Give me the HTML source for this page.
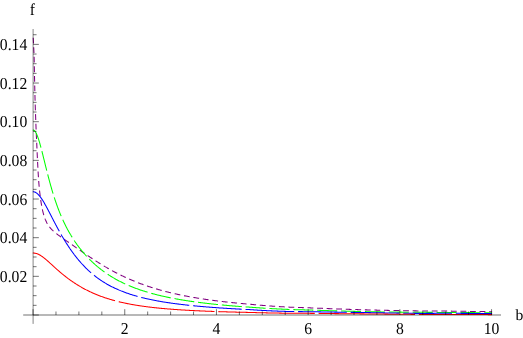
<!DOCTYPE html><html><head><meta charset="utf-8"><style>html,body{margin:0;padding:0;background:#fff}svg{display:block;will-change:transform}text{text-rendering:geometricPrecision;font-family:"Liberation Serif",serif;font-size:15.65px;fill:#000}</style></head><body>
<svg width="523" height="338" viewBox="0 0 523 338">
<rect width="523" height="338" fill="#fff"/>
<path d="M33.24,38.20 L33.31,39.41 L33.36,40.35 L33.41,41.30 L33.45,42.24 L33.50,43.18 L33.54,44.12 L33.59,45.06 L33.63,46.01 L33.68,46.95 L33.72,47.89 L33.77,48.84 L33.82,49.78 L33.86,50.72 L33.91,51.67 L33.95,52.61 L33.99,53.55 L34.03,54.50 L34.06,55.44 L34.10,56.39 L34.13,57.33 L34.15,58.28 L34.18,59.22 L34.20,60.17 L34.21,61.11 L34.23,62.06 L34.25,63.01 L34.27,63.95 L34.29,64.90 L34.31,65.85 L34.32,66.79 L34.34,67.74 L34.36,68.69 L34.38,69.64 L34.40,70.59 L34.41,71.54 L34.43,72.48 L34.45,73.43 L34.47,74.38 L34.49,75.33 L34.51,76.29 L34.53,77.24 L34.55,78.19 L34.57,79.14 L34.59,80.09 L34.61,81.05 L34.63,82.00 L34.65,82.95 L34.67,83.91 L34.69,84.86 L34.71,85.82 L34.73,86.78 L34.76,87.73 L34.78,88.69 L34.80,89.65 L34.82,90.61 L34.85,91.57 L34.87,92.53 L34.90,93.49 L34.92,94.45 L34.95,95.42 L34.97,96.38 L35.00,97.35 L35.02,98.31 L35.05,99.28 L35.08,100.25 L35.11,101.21 L35.13,102.18 L35.16,103.15 L35.19,104.13 L35.22,105.10 L35.25,106.07 L35.28,107.05 L35.32,108.03 L35.35,109.00 L35.38,109.98 L35.41,110.96 L35.45,111.95 L35.48,112.93 L35.51,113.91 L35.55,114.90 L35.59,115.89 L35.62,116.88 L35.66,117.87 L35.69,118.86 L35.73,119.85 L35.77,120.85 L35.81,121.85 L35.97,125.98 L36.13,129.90 L36.29,133.61 L36.45,137.16 L36.60,140.54 L36.75,143.78 L36.89,146.88 L37.02,149.86 L37.15,152.73 L37.27,155.48 L37.39,158.13 L37.52,160.68 L37.64,163.14 L37.77,165.52 L37.89,167.80 L38.01,170.01 L38.13,172.13 L38.25,174.18 L38.37,176.15 L38.49,178.06 L38.62,179.89 L38.75,181.66 L38.88,183.36 L39.02,185.01 L39.16,186.59 L39.30,188.12 L39.45,189.59 L39.60,191.00 L39.75,192.37 L39.91,193.68 L40.06,194.95 L40.21,196.17 L40.36,197.34 L40.51,198.47 L40.67,199.56 L40.82,200.62 L40.97,201.63 L41.12,202.60 L41.28,203.54 L41.43,204.45 L41.58,205.33 L41.73,206.17 L41.88,206.98 L42.04,207.76 L42.19,208.52 L42.34,209.25 L42.49,209.96 L42.64,210.64 L42.80,211.29 L42.95,211.93 L43.10,212.54 L43.25,213.13 L43.40,213.70 L43.56,214.26 L43.71,214.79 L43.86,215.31 L44.01,215.81 L44.17,216.30 L44.47,217.22 L44.77,218.09 L45.08,218.91 L45.38,219.68 L45.69,220.40 L45.99,221.09 L46.30,221.74 L46.60,222.35 L46.90,222.94 L47.21,223.49 L47.51,224.02 L47.82,224.53 L48.12,225.01 L48.42,225.47 L48.73,225.91 L49.03,226.34 L49.34,226.74 L49.79,227.33 L50.25,227.88 L50.71,228.41 L51.16,228.91 L51.62,229.39 L52.08,229.85 L52.53,230.30 L52.99,230.73 L53.44,231.15 L53.90,231.55 L54.36,231.95 L54.81,232.34 L55.27,232.71 L55.73,233.08 L56.18,233.45 L56.64,233.80 L57.10,234.16 L57.55,234.50 L58.01,234.85 L58.46,235.19 L58.92,235.52 L59.38,235.86 L59.83,236.19 L60.29,236.52 L60.75,236.85 L61.20,237.17 L61.66,237.50 L62.12,237.82 L62.57,238.14 L63.03,238.46 L63.48,238.78 L63.94,239.10 L64.40,239.42 L64.85,239.74 L65.31,240.06 L65.77,240.38 L66.22,240.70 L66.68,241.01 L67.14,241.33 L67.59,241.65 L68.05,241.97 L68.50,242.29 L68.96,242.60 L69.42,242.92 L69.87,243.24 L70.33,243.56 L70.79,243.88 L71.24,244.19 L71.70,244.51 L72.16,244.83 L72.61,245.15 L73.07,245.47 L73.52,245.79 L73.98,246.10 L74.44,246.42 L74.89,246.74 L75.35,247.06 L75.81,247.38 L76.26,247.70 L76.72,248.01 L77.18,248.33 L77.63,248.65 L78.09,248.97 L78.54,249.29 L79.00,249.60 L79.46,249.92 L79.91,250.24 L80.37,250.55 L80.83,250.87 L81.28,251.19 L81.74,251.50 L82.20,251.82 L82.65,252.13 L83.11,252.45 L83.56,252.76 L84.02,253.07 L84.48,253.39 L84.93,253.70 L85.39,254.01 L85.85,254.32 L86.30,254.63 L86.76,254.94 L87.22,255.25 L87.67,255.56 L88.13,255.87 L88.58,256.17 L89.04,256.48 L89.50,256.79 L89.95,257.09 L90.41,257.40 L90.87,257.70 L91.32,258.00 L91.78,258.30 L92.24,258.60 L92.69,258.90 L93.15,259.20 L93.60,259.50 L94.06,259.80 L94.52,260.09 L94.97,260.39 L95.43,260.68 L95.89,260.97 L96.34,261.27 L96.80,261.56 L97.26,261.85 L97.71,262.13 L98.17,262.42 L98.62,262.71 L99.08,262.99 L99.54,263.28 L99.99,263.56 L100.45,263.84 L100.91,264.12 L101.36,264.40 L101.82,264.68 L102.28,264.96 L102.73,265.23 L103.19,265.51 L103.64,265.78 L104.10,266.05 L104.56,266.33 L105.01,266.60 L105.47,266.86 L105.93,267.13 L106.38,267.40 L106.84,267.66 L107.30,267.93 L107.75,268.19 L108.21,268.45 L108.66,268.71 L109.12,268.97 L109.58,269.22 L110.03,269.48 L110.49,269.73 L110.95,269.99 L111.40,270.24 L111.86,270.49 L112.32,270.74 L112.77,270.99 L113.23,271.23 L113.68,271.48 L114.14,271.72 L114.60,271.96 L115.05,272.20 L115.51,272.44 L115.97,272.68 L116.42,272.92 L116.88,273.16 L117.34,273.39 L117.79,273.62 L118.25,273.86 L118.70,274.09 L119.16,274.32 L119.62,274.54 L120.07,274.77 L120.53,275.00 L120.99,275.22 L121.44,275.44 L121.90,275.66 L122.36,275.88 L122.81,276.10 L123.27,276.32 L123.72,276.54 L124.18,276.75 L124.64,276.97 L125.09,277.18 L125.55,277.39 L126.01,277.60 L126.46,277.81 L126.92,278.02 L127.38,278.22 L127.83,278.43 L128.44,278.70 L129.05,278.97 L129.66,279.23 L130.27,279.50 L130.87,279.76 L131.48,280.02 L132.09,280.28 L132.70,280.53 L133.31,280.79 L133.92,281.04 L134.52,281.29 L135.13,281.53 L135.74,281.78 L136.35,282.02 L136.96,282.26 L137.57,282.50 L138.18,282.74 L138.78,282.97 L139.39,283.20 L140.00,283.43 L140.61,283.66 L141.22,283.89 L141.83,284.11 L142.43,284.34 L143.04,284.56 L143.65,284.77 L144.26,284.99 L144.87,285.21 L145.48,285.42 L146.09,285.63 L146.69,285.84 L147.30,286.05 L147.91,286.25 L148.52,286.46 L149.13,286.66 L149.74,286.86 L150.35,287.06 L150.95,287.25 L151.56,287.45 L152.17,287.64 L152.78,287.83 L153.39,288.02 L154.00,288.21 L154.60,288.40 L155.21,288.58 L155.82,288.76 L156.43,288.95 L157.04,289.12 L157.65,289.30 L158.26,289.48 L158.86,289.65 L159.47,289.83 L160.08,290.00 L160.69,290.17 L161.30,290.34 L161.91,290.51 L162.51,290.67 L163.12,290.84 L163.73,291.00 L164.34,291.16 L164.95,291.32 L165.56,291.48 L166.17,291.64 L166.77,291.79 L167.38,291.95 L167.99,292.10 L168.60,292.25 L169.21,292.40 L169.82,292.55 L170.42,292.70 L171.03,292.84 L171.64,292.99 L172.25,293.13 L172.86,293.27 L173.47,293.41 L174.08,293.55 L174.68,293.69 L175.29,293.83 L175.90,293.97 L176.51,294.10 L177.12,294.23 L177.73,294.37 L178.34,294.50 L178.94,294.63 L179.55,294.76 L180.16,294.89 L180.77,295.01 L181.38,295.14 L181.99,295.26 L182.59,295.39 L183.20,295.51 L183.81,295.63 L184.42,295.75 L185.03,295.87 L185.64,295.99 L186.25,296.10 L186.85,296.22 L187.46,296.33 L188.07,296.45 L188.68,296.56 L189.29,296.67 L189.90,296.79 L190.50,296.90 L191.11,297.00 L191.72,297.11 L192.33,297.22 L192.94,297.33 L193.55,297.43 L194.16,297.54 L194.76,297.64 L195.37,297.74 L195.98,297.85 L196.59,297.95 L197.20,298.05 L197.81,298.15 L198.42,298.24 L199.02,298.34 L199.63,298.44 L200.24,298.53 L200.85,298.63 L201.46,298.72 L202.07,298.82 L202.67,298.91 L203.28,299.00 L203.89,299.09 L204.50,299.18 L205.11,299.27 L205.72,299.36 L206.33,299.45 L206.93,299.54 L207.54,299.63 L208.15,299.71 L208.76,299.80 L209.37,299.88 L209.98,299.97 L210.58,300.05 L211.19,300.13 L211.80,300.21 L212.41,300.29 L213.02,300.37 L213.63,300.45 L214.24,300.53 L214.84,300.61 L215.45,300.69 L216.06,300.77 L216.67,300.84 L217.28,300.92 L217.89,301.00 L218.49,301.07 L219.10,301.15 L219.71,301.22 L220.32,301.29 L220.93,301.36 L221.54,301.44 L222.15,301.51 L222.75,301.58 L223.36,301.65 L223.97,301.72 L224.58,301.79 L225.19,301.86 L225.80,301.92 L226.41,301.99 L227.01,302.06 L227.62,302.12 L228.23,302.19 L228.84,302.26 L229.45,302.32 L230.06,302.39 L230.66,302.45 L231.27,302.51 L231.88,302.58 L232.49,302.64 L233.10,302.70 L233.71,302.76 L234.32,302.82 L234.92,302.88 L235.53,302.94 L236.14,303.00 L236.75,303.06 L237.36,303.12 L237.97,303.18 L238.57,303.24 L239.18,303.29 L239.79,303.35 L240.40,303.41 L241.01,303.46 L241.62,303.52 L242.23,303.57 L242.83,303.63 L243.44,303.68 L244.05,303.74 L244.66,303.79 L245.27,303.84 L245.88,303.90 L246.48,303.95 L247.09,304.00 L247.70,304.05 L248.31,304.10 L248.92,304.16 L249.53,304.21 L250.14,304.26 L250.74,304.32 L251.35,304.38 L251.96,304.44 L252.57,304.50 L253.18,304.56 L253.79,304.62 L254.40,304.68 L255.00,304.73 L255.61,304.79 L256.22,304.85 L256.83,304.90 L257.44,304.96 L258.05,305.01 L258.65,305.06 L259.26,305.12 L259.87,305.17 L260.48,305.22 L261.09,305.27 L261.70,305.32 L262.31,305.37 L262.91,305.42 L263.52,305.47 L264.13,305.52 L264.74,305.57 L265.35,305.62 L265.96,305.67 L266.56,305.71 L267.17,305.76 L267.78,305.80 L268.39,305.85 L269.00,305.89 L269.61,305.94 L270.22,305.98 L270.82,306.03 L271.43,306.07 L272.04,306.11 L272.65,306.15 L273.26,306.20 L273.87,306.24 L274.47,306.28 L275.08,306.32 L275.69,306.36 L276.30,306.40 L276.91,306.44 L277.52,306.48 L278.13,306.51 L278.73,306.55 L279.34,306.59 L279.95,306.63 L280.56,306.66 L281.17,306.70 L281.78,306.74 L282.39,306.77 L282.99,306.81 L283.60,306.84 L284.21,306.88 L284.82,306.91 L285.43,306.94 L286.04,306.98 L286.64,307.01 L287.25,307.04 L287.86,307.07 L288.47,307.10 L289.08,307.13 L289.69,307.15 L290.30,307.18 L290.90,307.20 L291.51,307.23 L292.12,307.25 L292.73,307.28 L293.34,307.30 L293.95,307.32 L294.55,307.35 L295.16,307.37 L295.77,307.39 L296.38,307.41 L296.99,307.43 L297.60,307.45 L298.21,307.47 L298.81,307.49 L299.42,307.51 L300.03,307.53 L300.64,307.55 L301.25,307.57 L301.86,307.59 L302.46,307.61 L303.07,307.63 L303.68,307.64 L304.29,307.66 L304.90,307.68 L305.51,307.70 L306.12,307.72 L306.72,307.74 L307.33,307.76 L307.94,307.79 L308.55,307.81 L309.16,307.83 L309.77,307.85 L310.38,307.87 L310.98,307.90 L311.59,307.92 L312.20,307.95 L312.81,307.97 L313.42,308.00 L314.03,308.02 L314.63,308.05 L315.24,308.07 L315.85,308.10 L316.46,308.12 L317.07,308.15 L317.68,308.17 L318.29,308.20 L318.89,308.22 L319.50,308.25 L320.11,308.27 L320.72,308.30 L321.33,308.32 L321.94,308.35 L322.54,308.37 L323.15,308.40 L323.76,308.42 L324.37,308.45 L324.98,308.47 L325.59,308.49 L326.20,308.52 L326.80,308.54 L327.41,308.57 L328.02,308.59 L328.63,308.61 L329.24,308.64 L329.85,308.66 L330.46,308.68 L331.06,308.71 L331.67,308.73 L332.28,308.75 L332.89,308.78 L333.50,308.80 L334.11,308.82 L334.71,308.85 L335.32,308.87 L335.93,308.89 L336.54,308.91 L337.15,308.94 L337.76,308.96 L338.37,308.98 L338.97,309.00 L339.58,309.03 L340.19,309.05 L340.80,309.07 L341.41,309.09 L342.02,309.11 L342.62,309.13 L343.23,309.16 L343.84,309.18 L344.45,309.20 L345.06,309.22 L345.67,309.24 L346.28,309.26 L346.88,309.28 L347.49,309.30 L348.10,309.32 L348.71,309.34 L349.32,309.36 L349.93,309.38 L350.53,309.40 L351.14,309.42 L351.75,309.44 L352.36,309.46 L352.97,309.48 L353.58,309.50 L354.19,309.52 L354.79,309.54 L355.40,309.56 L356.01,309.58 L356.62,309.60 L357.23,309.61 L357.84,309.63 L358.45,309.65 L359.05,309.67 L359.66,309.69 L360.27,309.70 L360.88,309.72 L361.49,309.74 L362.10,309.76 L362.70,309.77 L363.31,309.79 L363.92,309.81 L364.53,309.82 L365.14,309.84 L365.75,309.86 L366.36,309.87 L366.96,309.89 L367.57,309.91 L368.18,309.92 L368.79,309.94 L369.40,309.95 L370.01,309.97 L370.61,309.98 L371.22,310.00 L371.83,310.02 L372.44,310.03 L373.05,310.05 L373.66,310.06 L374.27,310.08 L374.87,310.09 L375.48,310.10 L376.09,310.12 L376.70,310.13 L377.31,310.15 L377.92,310.16 L378.52,310.18 L379.13,310.19 L379.74,310.20 L380.35,310.22 L380.96,310.23 L381.57,310.25 L382.18,310.26 L382.78,310.27 L383.39,310.29 L384.00,310.30 L384.61,310.31 L385.22,310.33 L385.83,310.34 L386.44,310.35 L387.04,310.36 L387.65,310.38 L388.26,310.39 L388.87,310.40 L389.48,310.41 L390.09,310.43 L390.69,310.44 L391.30,310.45 L391.91,310.46 L392.52,310.48 L393.13,310.49 L393.74,310.50 L394.35,310.51 L394.95,310.52 L395.56,310.53 L396.17,310.55 L396.78,310.56 L397.39,310.57 L398.00,310.58 L398.60,310.59 L399.21,310.60 L399.82,310.61 L400.43,310.63 L401.04,310.64 L401.65,310.65 L402.26,310.66 L402.86,310.67 L403.47,310.68 L404.08,310.69 L404.69,310.70 L405.30,310.71 L405.91,310.72 L406.51,310.73 L407.12,310.74 L407.73,310.75 L408.34,310.76 L408.95,310.77 L409.56,310.78 L410.17,310.79 L410.77,310.80 L411.38,310.81 L411.99,310.82 L412.60,310.83 L413.21,310.84 L413.82,310.85 L414.43,310.86 L415.03,310.87 L415.64,310.88 L416.25,310.89 L416.86,310.90 L417.47,310.91 L418.08,310.91 L418.68,310.92 L419.29,310.93 L419.90,310.93 L420.51,310.94 L421.12,310.95 L421.73,310.95 L422.34,310.96 L422.94,310.96 L423.55,310.97 L424.16,310.97 L424.77,310.98 L425.38,310.98 L425.99,310.99 L426.59,310.99 L427.20,310.99 L427.81,311.00 L428.42,311.00 L429.03,311.01 L429.64,311.01 L430.25,311.01 L430.85,311.01 L431.46,311.02 L432.07,311.02 L432.68,311.02 L433.29,311.03 L433.90,311.03 L434.51,311.03 L435.11,311.03 L435.72,311.04 L436.33,311.04 L436.94,311.04 L437.55,311.04 L438.16,311.05 L438.76,311.05 L439.37,311.05 L439.98,311.06 L440.59,311.06 L441.20,311.06 L441.81,311.07 L442.42,311.07 L443.02,311.07 L443.63,311.08 L444.24,311.08 L444.85,311.08 L445.46,311.09 L446.07,311.09 L446.67,311.10 L447.28,311.10 L447.89,311.11 L448.50,311.11 L449.11,311.12 L449.72,311.12 L450.33,311.13 L450.93,311.14 L451.54,311.14 L452.15,311.15 L452.76,311.16 L453.37,311.17 L453.98,311.17 L454.58,311.18 L455.19,311.19 L455.80,311.20 L456.41,311.21 L457.02,311.22 L457.63,311.23 L458.24,311.24 L458.84,311.24 L459.45,311.25 L460.06,311.26 L460.67,311.27 L461.28,311.28 L461.89,311.29 L462.50,311.30 L463.10,311.31 L463.71,311.31 L464.32,311.32 L464.93,311.33 L465.54,311.34 L466.15,311.35 L466.75,311.36 L467.36,311.37 L467.97,311.37 L468.58,311.38 L469.19,311.39 L469.80,311.40 L470.41,311.41 L471.01,311.42 L471.62,311.43 L472.23,311.44 L472.84,311.44 L473.45,311.45 L474.06,311.46 L474.66,311.47 L475.27,311.48 L475.88,311.49 L476.49,311.50 L477.10,311.51 L477.71,311.51 L478.32,311.52 L478.92,311.53 L479.53,311.54 L480.14,311.55 L480.75,311.56 L481.36,311.57 L481.97,311.58 L482.57,311.59 L483.18,311.59 L483.79,311.60 L484.40,311.61 L485.01,311.62 L485.62,311.63 L486.23,311.64 L486.83,311.65 L487.44,311.66 L488.05,311.67 L488.66,311.68 L489.27,311.69 L489.88,311.70 L490.49,311.71 L491.09,311.72 L491.55,311.72" fill="none" stroke="#800080" stroke-width="1.05" stroke-dasharray="4.78 4.78" stroke-dashoffset="0" stroke-linecap="square" stroke-linejoin="round"/>
<path d="M33.30,130.04 L33.79,130.20 L34.22,130.48 L34.60,130.82 L34.95,131.21 L35.27,131.64 L35.65,132.22 L35.95,132.75 L36.26,133.34 L36.56,133.97 L36.86,134.66 L37.17,135.39 L37.47,136.17 L37.78,136.99 L38.08,137.85 L38.38,138.74 L38.69,139.68 L38.84,140.16 L38.99,140.65 L39.15,141.14 L39.30,141.65 L39.45,142.16 L39.60,142.67 L39.75,143.20 L39.91,143.73 L40.06,144.27 L40.21,144.81 L40.36,145.36 L40.51,145.91 L40.67,146.47 L40.82,147.04 L40.97,147.61 L41.12,148.18 L41.28,148.76 L41.43,149.34 L41.58,149.93 L41.73,150.52 L41.88,151.11 L42.04,151.70 L42.19,152.30 L42.34,152.90 L42.49,153.50 L42.64,154.11 L42.80,154.72 L42.95,155.33 L43.10,155.94 L43.25,156.55 L43.40,157.16 L43.56,157.78 L43.71,158.39 L43.86,159.01 L44.01,159.62 L44.17,160.24 L44.32,160.86 L44.47,161.47 L44.62,162.09 L44.77,162.71 L44.93,163.32 L45.08,163.94 L45.23,164.56 L45.38,165.17 L45.53,165.78 L45.69,166.40 L45.84,167.01 L45.99,167.62 L46.14,168.23 L46.30,168.84 L46.45,169.45 L46.60,170.05 L46.75,170.65 L46.90,171.26 L47.06,171.86 L47.21,172.46 L47.36,173.05 L47.51,173.65 L47.66,174.24 L47.82,174.83 L47.97,175.42 L48.12,176.00 L48.27,176.59 L48.42,177.17 L48.58,177.75 L48.73,178.32 L48.88,178.90 L49.03,179.47 L49.19,180.04 L49.34,180.61 L49.49,181.17 L49.64,181.73 L49.79,182.29 L49.95,182.84 L50.10,183.40 L50.25,183.95 L50.40,184.49 L50.55,185.04 L50.71,185.58 L50.86,186.12 L51.01,186.66 L51.16,187.19 L51.32,187.72 L51.47,188.25 L51.62,188.77 L51.77,189.29 L51.92,189.81 L52.08,190.33 L52.23,190.84 L52.38,191.35 L52.53,191.86 L52.68,192.36 L52.84,192.86 L52.99,193.36 L53.14,193.85 L53.29,194.35 L53.44,194.83 L53.60,195.32 L53.75,195.80 L53.90,196.29 L54.05,196.76 L54.36,197.71 L54.66,198.64 L54.97,199.57 L55.27,200.48 L55.57,201.38 L55.88,202.27 L56.18,203.15 L56.49,204.02 L56.79,204.88 L57.10,205.72 L57.40,206.56 L57.70,207.38 L58.01,208.20 L58.31,209.01 L58.62,209.80 L58.92,210.59 L59.23,211.36 L59.53,212.13 L59.83,212.89 L60.14,213.64 L60.44,214.37 L60.75,215.11 L61.05,215.83 L61.35,216.54 L61.66,217.24 L61.96,217.94 L62.27,218.63 L62.57,219.31 L62.88,219.98 L63.18,220.64 L63.48,221.30 L63.79,221.95 L64.09,222.59 L64.40,223.23 L64.70,223.85 L65.01,224.48 L65.31,225.09 L65.61,225.70 L65.92,226.30 L66.22,226.89 L66.53,227.48 L66.83,228.06 L67.14,228.63 L67.44,229.20 L67.74,229.77 L68.05,230.32 L68.35,230.88 L68.66,231.42 L68.96,231.96 L69.27,232.50 L69.57,233.03 L69.87,233.55 L70.18,234.07 L70.48,234.59 L70.79,235.09 L71.09,235.60 L71.39,236.10 L71.70,236.59 L72.00,237.08 L72.31,237.57 L72.61,238.05 L72.92,238.53 L73.22,239.00 L73.52,239.47 L73.83,239.93 L74.13,240.39 L74.44,240.84 L74.74,241.30 L75.05,241.74 L75.35,242.19 L75.65,242.63 L75.96,243.06 L76.26,243.49 L76.57,243.92 L76.87,244.35 L77.18,244.77 L77.48,245.19 L77.78,245.60 L78.09,246.01 L78.39,246.42 L78.70,246.82 L79.00,247.22 L79.31,247.62 L79.76,248.21 L80.22,248.79 L80.67,249.37 L81.13,249.94 L81.59,250.50 L82.04,251.05 L82.50,251.60 L82.96,252.14 L83.41,252.68 L83.87,253.21 L84.33,253.74 L84.78,254.25 L85.24,254.77 L85.69,255.27 L86.15,255.77 L86.61,256.27 L87.06,256.76 L87.52,257.24 L87.98,257.72 L88.43,258.19 L88.89,258.66 L89.35,259.13 L89.80,259.59 L90.26,260.04 L90.71,260.49 L91.17,260.93 L91.63,261.37 L92.08,261.80 L92.54,262.23 L93.00,262.66 L93.45,263.08 L93.91,263.50 L94.37,263.91 L94.82,264.32 L95.28,264.72 L95.73,265.12 L96.19,265.51 L96.65,265.90 L97.10,266.29 L97.56,266.67 L98.02,267.05 L98.47,267.43 L98.93,267.80 L99.38,268.16 L99.84,268.53 L100.30,268.89 L100.75,269.24 L101.21,269.60 L101.67,269.94 L102.12,270.29 L102.58,270.63 L103.04,270.97 L103.49,271.30 L103.95,271.64 L104.40,271.96 L104.86,272.29 L105.32,272.61 L105.77,272.93 L106.23,273.24 L106.69,273.56 L107.14,273.86 L107.60,274.17 L108.06,274.47 L108.51,274.77 L108.97,275.07 L109.42,275.36 L109.88,275.65 L110.34,275.94 L110.79,276.23 L111.25,276.51 L111.71,276.79 L112.16,277.07 L112.62,277.34 L113.08,277.61 L113.53,277.88 L113.99,278.15 L114.44,278.41 L114.90,278.67 L115.36,278.93 L115.81,279.19 L116.27,279.44 L116.73,279.69 L117.18,279.94 L117.64,280.19 L118.10,280.43 L118.55,280.67 L119.01,280.91 L119.46,281.15 L119.92,281.38 L120.38,281.61 L120.83,281.84 L121.29,282.07 L121.75,282.30 L122.20,282.52 L122.66,282.74 L123.12,282.96 L123.57,283.18 L124.03,283.40 L124.48,283.61 L124.94,283.82 L125.40,284.03 L125.85,284.24 L126.31,284.44 L126.92,284.72 L127.53,284.98 L128.14,285.25 L128.74,285.51 L129.35,285.77 L129.96,286.02 L130.57,286.27 L131.18,286.52 L131.79,286.77 L132.39,287.01 L133.00,287.25 L133.61,287.49 L134.22,287.72 L134.83,287.95 L135.44,288.18 L136.05,288.41 L136.65,288.63 L137.26,288.85 L137.87,289.07 L138.48,289.29 L139.09,289.50 L139.70,289.71 L140.31,289.92 L140.91,290.13 L141.52,290.33 L142.13,290.53 L142.74,290.73 L143.35,290.93 L143.96,291.12 L144.56,291.31 L145.17,291.50 L145.78,291.69 L146.39,291.87 L147.00,292.06 L147.61,292.24 L148.22,292.42 L148.82,292.60 L149.43,292.77 L150.04,292.95 L150.65,293.12 L151.26,293.29 L151.87,293.46 L152.47,293.62 L153.08,293.79 L153.69,293.95 L154.30,294.11 L154.91,294.27 L155.52,294.43 L156.13,294.58 L156.73,294.74 L157.34,294.89 L157.95,295.04 L158.56,295.19 L159.17,295.34 L159.78,295.48 L160.39,295.63 L160.99,295.77 L161.60,295.91 L162.21,296.05 L162.82,296.19 L163.43,296.33 L164.04,296.46 L164.64,296.60 L165.25,296.73 L165.86,296.86 L166.47,296.99 L167.08,297.12 L167.69,297.25 L168.30,297.38 L168.90,297.50 L169.51,297.62 L170.12,297.75 L170.73,297.87 L171.34,297.99 L171.95,298.11 L172.55,298.23 L173.16,298.34 L173.77,298.46 L174.38,298.57 L174.99,298.69 L175.60,298.80 L176.21,298.91 L176.81,299.02 L177.42,299.13 L178.03,299.24 L178.64,299.34 L179.25,299.45 L179.86,299.56 L180.46,299.66 L181.07,299.76 L181.68,299.87 L182.29,299.97 L182.90,300.07 L183.51,300.17 L184.12,300.26 L184.72,300.36 L185.33,300.46 L185.94,300.55 L186.55,300.65 L187.16,300.74 L187.77,300.84 L188.38,300.93 L188.98,301.02 L189.59,301.11 L190.20,301.20 L190.81,301.29 L191.42,301.38 L192.03,301.46 L192.63,301.55 L193.24,301.64 L193.85,301.72 L194.46,301.81 L195.07,301.89 L195.68,301.97 L196.29,302.05 L196.89,302.14 L197.50,302.22 L198.11,302.30 L198.72,302.38 L199.33,302.45 L199.94,302.53 L200.54,302.61 L201.15,302.69 L201.76,302.76 L202.37,302.84 L202.98,302.91 L203.59,302.99 L204.20,303.06 L204.80,303.13 L205.41,303.21 L206.02,303.28 L206.63,303.35 L207.24,303.42 L207.85,303.49 L208.45,303.56 L209.06,303.63 L209.67,303.69 L210.28,303.76 L210.89,303.83 L211.50,303.90 L212.11,303.96 L212.71,304.03 L213.32,304.09 L213.93,304.16 L214.54,304.22 L215.15,304.28 L215.76,304.35 L216.37,304.41 L216.97,304.47 L217.58,304.53 L218.19,304.59 L218.80,304.65 L219.41,304.71 L220.02,304.77 L220.62,304.83 L221.23,304.89 L221.84,304.95 L222.45,305.00 L223.06,305.06 L223.67,305.12 L224.28,305.17 L224.88,305.23 L225.49,305.28 L226.10,305.34 L226.71,305.39 L227.32,305.45 L227.93,305.50 L228.53,305.55 L229.14,305.61 L229.75,305.66 L230.36,305.71 L230.97,305.76 L231.58,305.81 L232.19,305.86 L232.79,305.91 L233.40,305.96 L234.01,306.01 L234.62,306.06 L235.23,306.11 L235.84,306.16 L236.44,306.21 L237.05,306.26 L237.66,306.30 L238.27,306.35 L238.88,306.40 L239.49,306.44 L240.10,306.49 L240.70,306.54 L241.31,306.58 L241.92,306.63 L242.53,306.67 L243.14,306.72 L243.75,306.76 L244.36,306.80 L244.96,306.85 L245.57,306.89 L246.18,306.93 L246.79,306.98 L247.40,307.02 L248.01,307.06 L248.61,307.10 L249.22,307.14 L249.83,307.18 L250.44,307.23 L251.05,307.28 L251.66,307.32 L252.27,307.37 L252.87,307.42 L253.48,307.46 L254.09,307.51 L254.70,307.55 L255.31,307.59 L255.92,307.64 L256.52,307.68 L257.13,307.72 L257.74,307.76 L258.35,307.81 L258.96,307.85 L259.57,307.89 L260.18,307.93 L260.78,307.97 L261.39,308.01 L262.00,308.05 L262.61,308.09 L263.22,308.12 L263.83,308.16 L264.44,308.20 L265.04,308.24 L265.65,308.27 L266.26,308.31 L266.87,308.35 L267.48,308.38 L268.09,308.42 L268.69,308.45 L269.30,308.49 L269.91,308.52 L270.52,308.55 L271.13,308.59 L271.74,308.62 L272.35,308.65 L272.95,308.69 L273.56,308.72 L274.17,308.75 L274.78,308.78 L275.39,308.81 L276.00,308.85 L276.60,308.88 L277.21,308.91 L277.82,308.94 L278.43,308.97 L279.04,309.00 L279.65,309.03 L280.26,309.06 L280.86,309.09 L281.47,309.12 L282.08,309.14 L282.69,309.17 L283.30,309.20 L283.91,309.23 L284.51,309.26 L285.12,309.28 L285.73,309.31 L286.34,309.34 L286.95,309.36 L287.56,309.39 L288.17,309.41 L288.77,309.43 L289.38,309.46 L289.99,309.48 L290.60,309.50 L291.21,309.52 L291.82,309.54 L292.43,309.56 L293.03,309.58 L293.64,309.60 L294.25,309.61 L294.86,309.63 L295.47,309.65 L296.08,309.67 L296.68,309.68 L297.29,309.70 L297.90,309.71 L298.51,309.73 L299.12,309.75 L299.73,309.76 L300.34,309.78 L300.94,309.79 L301.55,309.81 L302.16,309.82 L302.77,309.84 L303.38,309.85 L303.99,309.87 L304.59,309.88 L305.20,309.90 L305.81,309.92 L306.42,309.93 L307.03,309.95 L307.64,309.97 L308.25,309.98 L308.85,310.00 L309.46,310.02 L310.07,310.03 L310.68,310.05 L311.29,310.07 L311.90,310.09 L312.50,310.11 L313.11,310.13 L313.72,310.15 L314.33,310.17 L314.94,310.19 L315.55,310.21 L316.16,310.23 L316.76,310.25 L317.37,310.28 L317.98,310.30 L318.59,310.32 L319.20,310.34 L319.81,310.36 L320.42,310.38 L321.02,310.40 L321.63,310.42 L322.24,310.44 L322.85,310.46 L323.46,310.48 L324.07,310.50 L324.67,310.52 L325.28,310.53 L325.89,310.55 L326.50,310.57 L327.11,310.59 L327.72,310.61 L328.33,310.63 L328.93,310.65 L329.54,310.67 L330.15,310.69 L330.76,310.71 L331.37,310.73 L331.98,310.75 L332.58,310.76 L333.19,310.78 L333.80,310.80 L334.41,310.82 L335.02,310.84 L335.63,310.86 L336.24,310.88 L336.84,310.89 L337.45,310.91 L338.06,310.93 L338.67,310.95 L339.28,310.97 L339.89,310.98 L340.49,311.00 L341.10,311.02 L341.71,311.04 L342.32,311.05 L342.93,311.07 L343.54,311.09 L344.15,311.10 L344.75,311.12 L345.36,311.14 L345.97,311.16 L346.58,311.17 L347.19,311.19 L347.80,311.21 L348.41,311.22 L349.01,311.24 L349.62,311.25 L350.23,311.27 L350.84,311.29 L351.45,311.30 L352.06,311.32 L352.66,311.33 L353.27,311.35 L353.88,311.36 L354.49,311.38 L355.10,311.39 L355.71,311.41 L356.32,311.42 L356.92,311.44 L357.53,311.45 L358.14,311.47 L358.75,311.48 L359.36,311.49 L359.97,311.51 L360.57,311.52 L361.18,311.54 L361.79,311.55 L362.40,311.56 L363.01,311.58 L363.62,311.59 L364.23,311.60 L364.83,311.62 L365.44,311.63 L366.05,311.64 L366.66,311.65 L367.27,311.66 L367.88,311.68 L368.49,311.69 L369.09,311.70 L369.70,311.71 L370.31,311.72 L370.92,311.73 L371.53,311.75 L372.14,311.76 L372.74,311.77 L373.35,311.78 L373.96,311.79 L374.57,311.80 L375.18,311.81 L375.79,311.82 L376.40,311.83 L377.00,311.84 L377.61,311.85 L378.22,311.86 L378.83,311.87 L379.44,311.88 L380.05,311.89 L380.65,311.89 L381.26,311.90 L381.87,311.91 L382.48,311.92 L383.09,311.93 L383.70,311.94 L384.31,311.95 L384.91,311.95 L385.52,311.96 L386.13,311.97 L386.74,311.98 L387.35,311.99 L387.96,311.99 L388.56,312.00 L389.17,312.01 L389.78,312.02 L390.39,312.02 L391.00,312.03 L391.61,312.04 L392.22,312.05 L392.82,312.05 L393.43,312.06 L394.04,312.07 L394.65,312.07 L395.26,312.08 L395.87,312.09 L396.48,312.09 L397.08,312.10 L397.69,312.11 L398.30,312.11 L398.91,312.12 L399.52,312.12 L400.13,312.13 L400.73,312.14 L401.34,312.14 L401.95,312.15 L402.56,312.15 L403.17,312.16 L403.78,312.17 L404.39,312.17 L404.99,312.18 L405.60,312.18 L406.21,312.19 L406.82,312.20 L407.43,312.20 L408.04,312.21 L408.64,312.21 L409.25,312.22 L409.86,312.22 L410.47,312.23 L411.08,312.23 L411.69,312.24 L412.30,312.25 L412.90,312.25 L413.51,312.26 L414.12,312.26 L414.73,312.27 L415.34,312.27 L415.95,312.28 L416.55,312.28 L417.16,312.29 L417.77,312.29 L418.38,312.30 L418.99,312.30 L419.60,312.31 L420.21,312.31 L420.81,312.31 L421.42,312.32 L422.03,312.32 L422.64,312.33 L423.25,312.33 L423.86,312.33 L424.47,312.34 L425.07,312.34 L425.68,312.34 L426.29,312.35 L426.90,312.35 L427.51,312.35 L428.12,312.35 L428.72,312.36 L429.33,312.36 L429.94,312.36 L430.55,312.37 L431.16,312.37 L431.77,312.37 L432.38,312.37 L432.98,312.38 L433.59,312.38 L434.20,312.38 L434.81,312.38 L435.42,312.39 L436.03,312.39 L436.63,312.39 L437.24,312.39 L437.85,312.40 L438.46,312.40 L439.07,312.40 L439.68,312.41 L440.29,312.41 L440.89,312.41 L441.50,312.41 L442.11,312.42 L442.72,312.42 L443.33,312.42 L443.94,312.42 L444.54,312.43 L445.15,312.43 L445.76,312.43 L446.37,312.44 L446.98,312.44 L447.59,312.44 L448.20,312.45 L448.80,312.45 L449.41,312.45 L450.02,312.46 L450.63,312.46 L451.24,312.47 L451.85,312.47 L452.46,312.47 L453.06,312.48 L453.67,312.48 L454.28,312.49 L454.89,312.49 L455.50,312.50 L456.11,312.50 L456.71,312.51 L457.32,312.51 L457.93,312.52 L458.54,312.52 L459.15,312.53 L459.76,312.53 L460.37,312.53 L460.97,312.54 L461.58,312.54 L462.19,312.55 L462.80,312.55 L463.41,312.56 L464.02,312.56 L464.62,312.57 L465.23,312.57 L465.84,312.58 L466.45,312.58 L467.06,312.59 L467.67,312.59 L468.28,312.59 L468.88,312.60 L469.49,312.60 L470.10,312.61 L470.71,312.61 L471.32,312.62 L471.93,312.62 L472.54,312.63 L473.14,312.63 L473.75,312.64 L474.36,312.64 L474.97,312.64 L475.58,312.65 L476.19,312.65 L476.79,312.66 L477.40,312.66 L478.01,312.67 L478.62,312.67 L479.23,312.68 L479.84,312.68 L480.45,312.69 L481.05,312.69 L481.66,312.69 L482.27,312.70 L482.88,312.70 L483.49,312.71 L484.10,312.71 L484.70,312.72 L485.31,312.72 L485.92,312.73 L486.53,312.73 L487.14,312.74 L487.75,312.74 L488.36,312.75 L488.96,312.75 L489.57,312.76 L490.18,312.76 L490.79,312.76 L491.40,312.77 L491.55,312.77" fill="none" stroke="#00ff00" stroke-width="1.05" stroke-dasharray="19.0 4.88" stroke-dashoffset="0" stroke-linecap="square" stroke-linejoin="round"/>
<path d="M33.30,191.75 L33.80,191.81 L34.30,191.93 L34.78,192.09 L35.27,192.30 L35.80,192.57 L36.26,192.85 L36.71,193.17 L37.17,193.53 L37.62,193.93 L38.08,194.36 L38.54,194.82 L38.99,195.32 L39.45,195.85 L39.91,196.41 L40.36,197.00 L40.67,197.41 L40.97,197.83 L41.28,198.26 L41.58,198.70 L41.88,199.16 L42.19,199.62 L42.49,200.09 L42.80,200.57 L43.10,201.06 L43.40,201.56 L43.71,202.07 L44.01,202.58 L44.32,203.10 L44.62,203.63 L44.93,204.16 L45.23,204.70 L45.53,205.24 L45.84,205.79 L46.14,206.35 L46.45,206.90 L46.75,207.47 L47.06,208.03 L47.36,208.60 L47.66,209.18 L47.97,209.75 L48.27,210.33 L48.58,210.91 L48.88,211.49 L49.19,212.08 L49.49,212.66 L49.79,213.25 L50.10,213.83 L50.40,214.42 L50.71,215.01 L51.01,215.60 L51.32,216.19 L51.62,216.78 L51.92,217.37 L52.23,217.96 L52.53,218.54 L52.84,219.13 L53.14,219.72 L53.44,220.30 L53.75,220.89 L54.05,221.47 L54.36,222.05 L54.66,222.63 L54.97,223.21 L55.27,223.79 L55.57,224.37 L55.88,224.94 L56.18,225.51 L56.49,226.08 L56.79,226.65 L57.10,227.21 L57.40,227.78 L57.70,228.34 L58.01,228.90 L58.31,229.45 L58.62,230.01 L58.92,230.56 L59.23,231.11 L59.53,231.65 L59.83,232.20 L60.14,232.74 L60.44,233.28 L60.75,233.81 L61.05,234.34 L61.35,234.87 L61.66,235.40 L61.96,235.93 L62.27,236.45 L62.57,236.96 L62.88,237.48 L63.18,237.99 L63.48,238.50 L63.79,239.01 L64.09,239.51 L64.40,240.01 L64.70,240.51 L65.01,241.01 L65.31,241.50 L65.61,241.99 L65.92,242.47 L66.22,242.96 L66.53,243.43 L66.83,243.91 L67.14,244.38 L67.44,244.86 L67.74,245.32 L68.05,245.79 L68.35,246.25 L68.66,246.71 L68.96,247.16 L69.27,247.62 L69.57,248.06 L69.87,248.51 L70.18,248.95 L70.48,249.39 L70.79,249.83 L71.09,250.27 L71.39,250.70 L71.70,251.13 L72.00,251.55 L72.31,251.97 L72.61,252.39 L72.92,252.81 L73.22,253.22 L73.52,253.63 L73.83,254.04 L74.13,254.45 L74.44,254.85 L74.74,255.25 L75.20,255.84 L75.65,256.43 L76.11,257.01 L76.57,257.58 L77.02,258.15 L77.48,258.71 L77.94,259.27 L78.39,259.82 L78.85,260.36 L79.31,260.90 L79.76,261.43 L80.22,261.95 L80.67,262.47 L81.13,262.99 L81.59,263.49 L82.04,263.99 L82.50,264.49 L82.96,264.98 L83.41,265.46 L83.87,265.94 L84.33,266.42 L84.78,266.89 L85.24,267.35 L85.69,267.81 L86.15,268.26 L86.61,268.70 L87.06,269.15 L87.52,269.58 L87.98,270.01 L88.43,270.44 L88.89,270.86 L89.35,271.28 L89.80,271.69 L90.26,272.09 L90.71,272.50 L91.17,272.89 L91.63,273.29 L92.08,273.67 L92.54,274.06 L93.00,274.43 L93.45,274.81 L93.91,275.18 L94.37,275.54 L94.82,275.90 L95.28,276.26 L95.73,276.61 L96.19,276.96 L96.65,277.31 L97.10,277.65 L97.56,277.98 L98.02,278.32 L98.47,278.64 L98.93,278.97 L99.38,279.29 L99.84,279.60 L100.30,279.92 L100.75,280.23 L101.21,280.53 L101.67,280.84 L102.12,281.13 L102.58,281.43 L103.04,281.72 L103.49,282.01 L103.95,282.29 L104.40,282.57 L104.86,282.85 L105.32,283.13 L105.77,283.40 L106.23,283.67 L106.69,283.93 L107.14,284.20 L107.60,284.45 L108.06,284.71 L108.51,284.96 L108.97,285.21 L109.42,285.46 L109.88,285.71 L110.34,285.95 L110.79,286.19 L111.25,286.42 L111.71,286.66 L112.16,286.89 L112.62,287.12 L113.08,287.34 L113.53,287.56 L113.99,287.78 L114.44,288.00 L114.90,288.22 L115.36,288.43 L115.81,288.64 L116.27,288.85 L116.73,289.06 L117.34,289.33 L117.94,289.59 L118.55,289.86 L119.16,290.12 L119.77,290.37 L120.38,290.62 L120.99,290.87 L121.59,291.12 L122.20,291.36 L122.81,291.59 L123.42,291.83 L124.03,292.06 L124.64,292.28 L125.25,292.51 L125.85,292.73 L126.46,292.95 L127.07,293.16 L127.68,293.37 L128.29,293.58 L128.90,293.79 L129.50,293.99 L130.11,294.19 L130.72,294.39 L131.33,294.58 L131.94,294.77 L132.55,294.96 L133.16,295.15 L133.76,295.33 L134.37,295.51 L134.98,295.69 L135.59,295.87 L136.20,296.04 L136.81,296.21 L137.41,296.38 L138.02,296.55 L138.63,296.71 L139.24,296.88 L139.85,297.04 L140.46,297.19 L141.07,297.35 L141.67,297.51 L142.28,297.66 L142.89,297.81 L143.50,297.96 L144.11,298.10 L144.72,298.25 L145.33,298.39 L145.93,298.53 L146.54,298.67 L147.15,298.81 L147.76,298.94 L148.37,299.08 L148.98,299.21 L149.58,299.34 L150.19,299.47 L150.80,299.60 L151.41,299.72 L152.02,299.85 L152.63,299.97 L153.24,300.09 L153.84,300.21 L154.45,300.33 L155.06,300.45 L155.67,300.57 L156.28,300.68 L156.89,300.79 L157.49,300.91 L158.10,301.02 L158.71,301.12 L159.32,301.23 L159.93,301.34 L160.54,301.45 L161.15,301.55 L161.75,301.65 L162.36,301.75 L162.97,301.86 L163.58,301.95 L164.19,302.05 L164.80,302.15 L165.40,302.25 L166.01,302.34 L166.62,302.44 L167.23,302.53 L167.84,302.62 L168.45,302.71 L169.06,302.80 L169.66,302.89 L170.27,302.98 L170.88,303.07 L171.49,303.16 L172.10,303.24 L172.71,303.33 L173.32,303.41 L173.92,303.49 L174.53,303.57 L175.14,303.66 L175.75,303.74 L176.36,303.81 L176.97,303.89 L177.57,303.97 L178.18,304.05 L178.79,304.12 L179.40,304.20 L180.01,304.28 L180.62,304.35 L181.23,304.42 L181.83,304.49 L182.44,304.57 L183.05,304.64 L183.66,304.71 L184.27,304.78 L184.88,304.85 L185.48,304.92 L186.09,304.98 L186.70,305.05 L187.31,305.12 L187.92,305.18 L188.53,305.25 L189.14,305.31 L189.74,305.38 L190.35,305.44 L190.96,305.50 L191.57,305.56 L192.18,305.63 L192.79,305.69 L193.40,305.75 L194.00,305.81 L194.61,305.87 L195.22,305.92 L195.83,305.98 L196.44,306.04 L197.05,306.10 L197.65,306.15 L198.26,306.21 L198.87,306.27 L199.48,306.32 L200.09,306.38 L200.70,306.43 L201.31,306.48 L201.91,306.54 L202.52,306.59 L203.13,306.64 L203.74,306.69 L204.35,306.75 L204.96,306.80 L205.56,306.85 L206.17,306.90 L206.78,306.95 L207.39,307.00 L208.00,307.05 L208.61,307.09 L209.22,307.14 L209.82,307.19 L210.43,307.24 L211.04,307.28 L211.65,307.33 L212.26,307.38 L212.87,307.42 L213.47,307.47 L214.08,307.51 L214.69,307.56 L215.30,307.60 L215.91,307.64 L216.52,307.69 L217.13,307.73 L217.73,307.77 L218.34,307.82 L218.95,307.86 L219.56,307.90 L220.17,307.94 L220.78,307.98 L221.39,308.02 L221.99,308.06 L222.60,308.10 L223.21,308.14 L223.82,308.18 L224.43,308.22 L225.04,308.26 L225.64,308.30 L226.25,308.34 L226.86,308.37 L227.47,308.41 L228.08,308.45 L228.69,308.49 L229.30,308.52 L229.90,308.56 L230.51,308.60 L231.12,308.63 L231.73,308.67 L232.34,308.70 L232.95,308.74 L233.55,308.77 L234.16,308.81 L234.77,308.84 L235.38,308.88 L235.99,308.91 L236.60,308.94 L237.21,308.98 L237.81,309.01 L238.42,309.04 L239.03,309.07 L239.64,309.11 L240.25,309.14 L240.86,309.17 L241.46,309.20 L242.07,309.23 L242.68,309.26 L243.29,309.30 L243.90,309.33 L244.51,309.36 L245.12,309.39 L245.72,309.42 L246.33,309.45 L246.94,309.48 L247.55,309.51 L248.16,309.54 L248.77,309.56 L249.38,309.59 L249.98,309.62 L250.59,309.67 L251.20,309.71 L251.81,309.75 L252.42,309.79 L253.03,309.84 L253.63,309.88 L254.24,309.92 L254.85,309.96 L255.46,310.00 L256.07,310.04 L256.68,310.07 L257.29,310.11 L257.89,310.15 L258.50,310.19 L259.11,310.22 L259.72,310.26 L260.33,310.29 L260.94,310.33 L261.54,310.36 L262.15,310.40 L262.76,310.43 L263.37,310.47 L263.98,310.50 L264.59,310.53 L265.20,310.56 L265.80,310.59 L266.41,310.62 L267.02,310.65 L267.63,310.68 L268.24,310.71 L268.85,310.74 L269.45,310.77 L270.06,310.80 L270.67,310.83 L271.28,310.86 L271.89,310.88 L272.50,310.91 L273.11,310.94 L273.71,310.96 L274.32,310.99 L274.93,311.01 L275.54,311.04 L276.15,311.06 L276.76,311.09 L277.37,311.11 L277.97,311.13 L278.58,311.16 L279.19,311.18 L279.80,311.20 L280.41,311.22 L281.02,311.25 L281.62,311.27 L282.23,311.29 L282.84,311.31 L283.45,311.33 L284.06,311.35 L284.67,311.37 L285.28,311.39 L285.88,311.41 L286.49,311.42 L287.10,311.44 L287.71,311.46 L288.32,311.47 L288.93,311.48 L289.53,311.50 L290.14,311.51 L290.75,311.52 L291.36,311.53 L291.97,311.54 L292.58,311.55 L293.19,311.56 L293.79,311.57 L294.40,311.57 L295.01,311.58 L295.62,311.59 L296.23,311.59 L296.84,311.60 L297.45,311.61 L298.05,311.61 L298.66,311.62 L299.27,311.62 L299.88,311.63 L300.49,311.63 L301.10,311.63 L301.70,311.64 L302.31,311.64 L302.92,311.65 L303.53,311.65 L304.14,311.66 L304.75,311.66 L305.36,311.67 L305.96,311.67 L306.57,311.68 L307.18,311.68 L307.79,311.69 L308.40,311.69 L309.01,311.70 L309.61,311.71 L310.22,311.72 L310.83,311.72 L311.44,311.73 L312.05,311.74 L312.66,311.75 L313.27,311.76 L313.87,311.77 L314.48,311.78 L315.09,311.79 L315.70,311.80 L316.31,311.82 L316.92,311.83 L317.52,311.84 L318.13,311.85 L318.74,311.86 L319.35,311.87 L319.96,311.88 L320.57,311.89 L321.18,311.90 L321.78,311.91 L322.39,311.92 L323.00,311.93 L323.61,311.94 L324.22,311.95 L324.83,311.96 L325.44,311.97 L326.04,311.97 L326.65,311.98 L327.26,311.99 L327.87,312.00 L328.48,312.01 L329.09,312.02 L329.69,312.03 L330.30,312.04 L330.91,312.05 L331.52,312.06 L332.13,312.07 L332.74,312.08 L333.35,312.09 L333.95,312.10 L334.56,312.11 L335.17,312.11 L335.78,312.12 L336.39,312.13 L337.00,312.14 L337.60,312.15 L338.21,312.16 L338.82,312.17 L339.43,312.18 L340.04,312.19 L340.65,312.20 L341.26,312.20 L341.86,312.21 L342.47,312.22 L343.08,312.23 L343.69,312.24 L344.30,312.25 L344.91,312.26 L345.51,312.27 L346.12,312.28 L346.73,312.28 L347.34,312.29 L347.95,312.30 L348.56,312.31 L349.17,312.32 L349.77,312.33 L350.38,312.34 L350.99,312.35 L351.60,312.35 L352.21,312.36 L352.82,312.37 L353.43,312.38 L354.03,312.39 L354.64,312.40 L355.25,312.41 L355.86,312.42 L356.47,312.43 L357.08,312.43 L357.68,312.44 L358.29,312.45 L358.90,312.46 L359.51,312.47 L360.12,312.48 L360.73,312.49 L361.34,312.50 L361.94,312.51 L362.55,312.52 L363.16,312.52 L363.77,312.53 L364.38,312.54 L364.99,312.55 L365.59,312.56 L366.20,312.57 L366.81,312.58 L367.42,312.59 L368.03,312.60 L368.64,312.61 L369.25,312.62 L369.85,312.63 L370.46,312.64 L371.07,312.65 L371.68,312.66 L372.29,312.67 L372.90,312.68 L373.50,312.69 L374.11,312.70 L374.72,312.71 L375.33,312.72 L375.94,312.73 L376.55,312.74 L377.16,312.75 L377.76,312.77 L378.37,312.78 L378.98,312.79 L379.59,312.80 L380.20,312.81 L380.81,312.82 L381.42,312.83 L382.02,312.84 L382.63,312.85 L383.24,312.87 L383.85,312.88 L384.46,312.89 L385.07,312.90 L385.67,312.91 L386.28,312.92 L386.89,312.93 L387.50,312.94 L388.11,312.95 L388.72,312.97 L389.33,312.98 L389.93,312.99 L390.54,313.00 L391.15,313.01 L391.76,313.02 L392.37,313.03 L392.98,313.04 L393.58,313.05 L394.19,313.06 L394.80,313.07 L395.41,313.09 L396.02,313.10 L396.63,313.11 L397.24,313.12 L397.84,313.13 L398.45,313.14 L399.06,313.15 L399.67,313.16 L400.28,313.17 L400.89,313.18 L401.50,313.19 L402.10,313.20 L402.71,313.21 L403.32,313.21 L403.93,313.22 L404.54,313.23 L405.15,313.24 L405.75,313.25 L406.36,313.26 L406.97,313.27 L407.58,313.28 L408.19,313.28 L408.80,313.29 L409.41,313.30 L410.01,313.31 L410.62,313.32 L411.23,313.32 L411.84,313.33 L412.45,313.34 L413.06,313.34 L413.66,313.35 L414.27,313.36 L414.88,313.36 L415.49,313.37 L416.10,313.37 L416.71,313.38 L417.32,313.38 L417.92,313.39 L418.53,313.39 L419.14,313.39 L419.75,313.39 L420.36,313.40 L420.97,313.40 L421.57,313.40 L422.18,313.40 L422.79,313.40 L423.40,313.40 L424.01,313.40 L424.62,313.40 L425.23,313.40 L425.83,313.39 L426.44,313.39 L427.05,313.39 L427.66,313.39 L428.27,313.39 L428.88,313.38 L429.49,313.38 L430.09,313.38 L430.70,313.37 L431.31,313.37 L431.92,313.37 L432.53,313.36 L433.14,313.36 L433.74,313.36 L434.35,313.35 L434.96,313.35 L435.57,313.34 L436.18,313.34 L436.79,313.34 L437.40,313.33 L438.00,313.33 L438.61,313.32 L439.22,313.32 L439.83,313.32 L440.44,313.31 L441.05,313.31 L441.65,313.31 L442.26,313.30 L442.87,313.30 L443.48,313.30 L444.09,313.30 L444.70,313.29 L445.31,313.29 L445.91,313.29 L446.52,313.29 L447.13,313.29 L447.74,313.29 L448.35,313.29 L448.96,313.28 L449.56,313.29 L450.17,313.29 L450.78,313.29 L451.39,313.29 L452.00,313.29 L452.61,313.29 L453.22,313.29 L453.82,313.30 L454.43,313.30 L455.04,313.31 L455.65,313.31 L456.26,313.31 L456.87,313.32 L457.48,313.32 L458.08,313.33 L458.69,313.33 L459.30,313.34 L459.91,313.34 L460.52,313.35 L461.13,313.35 L461.73,313.35 L462.34,313.36 L462.95,313.36 L463.56,313.37 L464.17,313.37 L464.78,313.38 L465.39,313.38 L465.99,313.39 L466.60,313.39 L467.21,313.39 L467.82,313.40 L468.43,313.40 L469.04,313.41 L469.64,313.41 L470.25,313.42 L470.86,313.42 L471.47,313.43 L472.08,313.43 L472.69,313.44 L473.30,313.44 L473.90,313.45 L474.51,313.45 L475.12,313.46 L475.73,313.46 L476.34,313.47 L476.95,313.48 L477.55,313.48 L478.16,313.49 L478.77,313.49 L479.38,313.50 L479.99,313.50 L480.60,313.51 L481.21,313.52 L481.81,313.52 L482.42,313.53 L483.03,313.54 L483.64,313.54 L484.25,313.55 L484.86,313.56 L485.47,313.56 L486.07,313.57 L486.68,313.58 L487.29,313.59 L487.90,313.59 L488.51,313.60 L489.12,313.61 L489.72,313.62 L490.33,313.62 L490.94,313.63 L491.55,313.64" fill="none" stroke="#0000ff" stroke-width="1.05" stroke-dasharray="47.7 4.88" stroke-dashoffset="0" stroke-linecap="square" stroke-linejoin="round"/>
<path d="M33.30,253.04 L33.81,253.07 L34.32,253.11 L34.84,253.19 L35.34,253.28 L35.95,253.43 L36.56,253.60 L37.17,253.81 L37.78,254.05 L38.38,254.31 L38.84,254.53 L39.30,254.77 L39.75,255.02 L40.21,255.28 L40.67,255.55 L41.12,255.84 L41.58,256.14 L42.04,256.46 L42.49,256.78 L42.95,257.11 L43.40,257.45 L43.86,257.80 L44.32,258.16 L44.77,258.53 L45.23,258.90 L45.69,259.28 L46.14,259.67 L46.60,260.06 L47.06,260.46 L47.51,260.85 L47.97,261.26 L48.42,261.66 L48.88,262.07 L49.34,262.48 L49.79,262.90 L50.25,263.31 L50.71,263.73 L51.16,264.15 L51.62,264.56 L52.08,264.98 L52.53,265.40 L52.99,265.82 L53.44,266.23 L53.90,266.65 L54.36,267.06 L54.81,267.48 L55.27,267.89 L55.73,268.30 L56.18,268.71 L56.64,269.11 L57.10,269.52 L57.55,269.92 L58.01,270.32 L58.46,270.72 L58.92,271.12 L59.38,271.51 L59.83,271.90 L60.29,272.29 L60.75,272.68 L61.20,273.06 L61.66,273.44 L62.12,273.82 L62.57,274.20 L63.03,274.57 L63.48,274.94 L63.94,275.31 L64.40,275.67 L64.85,276.03 L65.31,276.39 L65.77,276.75 L66.22,277.10 L66.68,277.45 L67.14,277.79 L67.59,278.14 L68.05,278.48 L68.50,278.82 L68.96,279.15 L69.42,279.49 L69.87,279.81 L70.33,280.14 L70.79,280.47 L71.24,280.79 L71.70,281.10 L72.16,281.42 L72.61,281.73 L73.07,282.04 L73.52,282.35 L73.98,282.65 L74.44,282.95 L74.89,283.25 L75.35,283.55 L75.81,283.84 L76.26,284.13 L76.72,284.42 L77.18,284.71 L77.63,284.99 L78.09,285.27 L78.54,285.55 L79.00,285.82 L79.46,286.09 L79.91,286.36 L80.37,286.63 L80.83,286.90 L81.28,287.16 L81.74,287.42 L82.20,287.67 L82.65,287.93 L83.11,288.18 L83.56,288.43 L84.02,288.68 L84.48,288.92 L84.93,289.17 L85.39,289.41 L85.85,289.64 L86.30,289.88 L86.76,290.11 L87.22,290.34 L87.67,290.57 L88.13,290.80 L88.58,291.02 L89.04,291.25 L89.50,291.47 L89.95,291.68 L90.41,291.90 L90.87,292.11 L91.32,292.32 L91.78,292.53 L92.24,292.74 L92.69,292.94 L93.30,293.21 L93.91,293.48 L94.52,293.74 L95.13,294.00 L95.73,294.25 L96.34,294.51 L96.95,294.76 L97.56,295.00 L98.17,295.24 L98.78,295.48 L99.38,295.72 L99.99,295.95 L100.60,296.18 L101.21,296.40 L101.82,296.62 L102.43,296.84 L103.04,297.06 L103.64,297.27 L104.25,297.48 L104.86,297.69 L105.47,297.89 L106.08,298.09 L106.69,298.29 L107.30,298.49 L107.90,298.68 L108.51,298.87 L109.12,299.06 L109.73,299.24 L110.34,299.43 L110.95,299.61 L111.55,299.78 L112.16,299.96 L112.77,300.13 L113.38,300.30 L113.99,300.47 L114.60,300.63 L115.21,300.80 L115.81,300.96 L116.42,301.11 L117.03,301.27 L117.64,301.42 L118.25,301.58 L118.86,301.73 L119.46,301.87 L120.07,302.02 L120.68,302.16 L121.29,302.30 L121.90,302.44 L122.51,302.58 L123.12,302.71 L123.72,302.85 L124.33,302.98 L124.94,303.11 L125.55,303.24 L126.16,303.36 L126.77,303.49 L127.38,303.61 L127.98,303.73 L128.59,303.85 L129.20,303.97 L129.81,304.08 L130.42,304.20 L131.03,304.31 L131.63,304.42 L132.24,304.53 L132.85,304.64 L133.46,304.74 L134.07,304.85 L134.68,304.95 L135.29,305.05 L135.89,305.15 L136.50,305.25 L137.11,305.35 L137.72,305.45 L138.33,305.54 L138.94,305.64 L139.54,305.73 L140.15,305.82 L140.76,305.91 L141.37,306.00 L141.98,306.09 L142.59,306.18 L143.20,306.26 L143.80,306.35 L144.41,306.43 L145.02,306.51 L145.63,306.59 L146.24,306.67 L146.85,306.75 L147.45,306.83 L148.06,306.90 L148.67,306.98 L149.28,307.06 L149.89,307.13 L150.50,307.20 L151.11,307.27 L151.71,307.34 L152.32,307.41 L152.93,307.48 L153.54,307.55 L154.15,307.62 L154.76,307.68 L155.37,307.75 L155.97,307.82 L156.58,307.88 L157.19,307.94 L157.80,308.00 L158.41,308.07 L159.02,308.13 L159.62,308.19 L160.23,308.24 L160.84,308.30 L161.45,308.36 L162.06,308.42 L162.67,308.47 L163.28,308.53 L163.88,308.58 L164.49,308.64 L165.10,308.69 L165.71,308.74 L166.32,308.80 L166.93,308.85 L167.53,308.90 L168.14,308.95 L168.75,309.00 L169.36,309.05 L169.97,309.10 L170.58,309.14 L171.19,309.19 L171.79,309.24 L172.40,309.28 L173.01,309.33 L173.62,309.37 L174.23,309.42 L174.84,309.46 L175.44,309.51 L176.05,309.55 L176.66,309.59 L177.27,309.63 L177.88,309.67 L178.49,309.71 L179.10,309.76 L179.70,309.80 L180.31,309.83 L180.92,309.87 L181.53,309.91 L182.14,309.95 L182.75,309.99 L183.36,310.03 L183.96,310.06 L184.57,310.10 L185.18,310.13 L185.79,310.17 L186.40,310.21 L187.01,310.24 L187.61,310.27 L188.22,310.31 L188.83,310.34 L189.44,310.38 L190.05,310.41 L190.66,310.44 L191.27,310.47 L191.87,310.50 L192.48,310.54 L193.09,310.57 L193.70,310.60 L194.31,310.63 L194.92,310.66 L195.52,310.69 L196.13,310.72 L196.74,310.75 L197.35,310.78 L197.96,310.80 L198.57,310.83 L199.18,310.86 L199.78,310.89 L200.39,310.92 L201.00,310.94 L201.61,310.97 L202.22,311.00 L202.83,311.02 L203.43,311.05 L204.04,311.07 L204.65,311.10 L205.26,311.12 L205.87,311.15 L206.48,311.17 L207.09,311.20 L207.69,311.22 L208.30,311.25 L208.91,311.27 L209.52,311.29 L210.13,311.32 L210.74,311.34 L211.35,311.36 L211.95,311.39 L212.56,311.41 L213.17,311.43 L213.78,311.45 L214.39,311.47 L215.00,311.49 L215.60,311.52 L216.21,311.54 L216.82,311.56 L217.43,311.58 L218.04,311.60 L218.65,311.62 L219.26,311.64 L219.86,311.66 L220.47,311.68 L221.08,311.70 L221.69,311.72 L222.30,311.74 L222.91,311.76 L223.51,311.77 L224.12,311.79 L224.73,311.81 L225.34,311.83 L225.95,311.85 L226.56,311.87 L227.17,311.88 L227.77,311.90 L228.38,311.92 L228.99,311.94 L229.60,311.95 L230.21,311.97 L230.82,311.99 L231.43,312.00 L232.03,312.02 L232.64,312.04 L233.25,312.05 L233.86,312.07 L234.47,312.08 L235.08,312.10 L235.68,312.12 L236.29,312.13 L236.90,312.15 L237.51,312.16 L238.12,312.18 L238.73,312.19 L239.34,312.21 L239.94,312.22 L240.55,312.24 L241.16,312.25 L241.77,312.26 L242.38,312.28 L242.99,312.29 L243.59,312.31 L244.20,312.32 L244.81,312.33 L245.42,312.35 L246.03,312.36 L246.64,312.37 L247.25,312.39 L247.85,312.40 L248.46,312.41 L249.07,312.43 L249.68,312.44 L250.29,312.46 L250.90,312.47 L251.50,312.49 L252.11,312.51 L252.72,312.53 L253.33,312.55 L253.94,312.56 L254.55,312.58 L255.16,312.60 L255.76,312.61 L256.37,312.63 L256.98,312.65 L257.59,312.66 L258.20,312.68 L258.81,312.69 L259.42,312.71 L260.02,312.72 L260.63,312.74 L261.24,312.75 L261.85,312.77 L262.46,312.78 L263.07,312.80 L263.67,312.81 L264.28,312.82 L264.89,312.84 L265.50,312.85 L266.11,312.86 L266.72,312.88 L267.33,312.89 L267.93,312.90 L268.54,312.91 L269.15,312.93 L269.76,312.94 L270.37,312.95 L270.98,312.96 L271.58,312.97 L272.19,312.99 L272.80,313.00 L273.41,313.01 L274.02,313.02 L274.63,313.03 L275.24,313.04 L275.84,313.05 L276.45,313.06 L277.06,313.07 L277.67,313.08 L278.28,313.09 L278.89,313.10 L279.49,313.11 L280.10,313.12 L280.71,313.13 L281.32,313.14 L281.93,313.15 L282.54,313.16 L283.15,313.17 L283.75,313.17 L284.36,313.18 L284.97,313.19 L285.58,313.20 L286.19,313.21 L286.80,313.21 L287.41,313.22 L288.01,313.23 L288.62,313.23 L289.23,313.24 L289.84,313.24 L290.45,313.25 L291.06,313.25 L291.66,313.26 L292.27,313.26 L292.88,313.27 L293.49,313.27 L294.10,313.27 L294.71,313.28 L295.32,313.28 L295.92,313.28 L296.53,313.29 L297.14,313.29 L297.75,313.29 L298.36,313.29 L298.97,313.30 L299.57,313.30 L300.18,313.30 L300.79,313.30 L301.40,313.30 L302.01,313.31 L302.62,313.31 L303.23,313.31 L303.83,313.31 L304.44,313.32 L305.05,313.32 L305.66,313.32 L306.27,313.32 L306.88,313.33 L307.48,313.33 L308.09,313.33 L308.70,313.34 L309.31,313.34 L309.92,313.35 L310.53,313.35 L311.14,313.36 L311.74,313.36 L312.35,313.37 L312.96,313.37 L313.57,313.38 L314.18,313.39 L314.79,313.39 L315.40,313.40 L316.00,313.41 L316.61,313.41 L317.22,313.42 L317.83,313.42 L318.44,313.43 L319.05,313.44 L319.65,313.44 L320.26,313.45 L320.87,313.46 L321.48,313.46 L322.09,313.47 L322.70,313.47 L323.31,313.48 L323.91,313.49 L324.52,313.49 L325.13,313.50 L325.74,313.51 L326.35,313.51 L326.96,313.52 L327.56,313.53 L328.17,313.53 L328.78,313.54 L329.39,313.54 L330.00,313.55 L330.61,313.56 L331.22,313.56 L331.82,313.57 L332.43,313.58 L333.04,313.58 L333.65,313.59 L334.26,313.60 L334.87,313.60 L335.48,313.61 L336.08,313.61 L336.69,313.62 L337.30,313.63 L337.91,313.63 L338.52,313.64 L339.13,313.65 L339.73,313.65 L340.34,313.66 L340.95,313.66 L341.56,313.67 L342.17,313.68 L342.78,313.68 L343.39,313.69 L343.99,313.70 L344.60,313.70 L345.21,313.71 L345.82,313.71 L346.43,313.72 L347.04,313.73 L347.64,313.73 L348.25,313.74 L348.86,313.74 L349.47,313.75 L350.08,313.76 L350.69,313.76 L351.30,313.77 L351.90,313.78 L352.51,313.78 L353.12,313.79 L353.73,313.79 L354.34,313.80 L354.95,313.81 L355.55,313.81 L356.16,313.82 L356.77,313.82 L357.38,313.83 L357.99,313.83 L358.60,313.84 L359.21,313.85 L359.81,313.85 L360.42,313.86 L361.03,313.86 L361.64,313.87 L362.25,313.87 L362.86,313.88 L363.47,313.89 L364.07,313.89 L364.68,313.90 L365.29,313.90 L365.90,313.91 L366.51,313.91 L367.12,313.92 L367.72,313.93 L368.33,313.93 L368.94,313.94 L369.55,313.94 L370.16,313.95 L370.77,313.96 L371.38,313.96 L371.98,313.97 L372.59,313.98 L373.20,313.98 L373.81,313.99 L374.42,313.99 L375.03,314.00 L375.63,314.01 L376.24,314.01 L376.85,314.02 L377.46,314.03 L378.07,314.03 L378.68,314.04 L379.29,314.05 L379.89,314.05 L380.50,314.06 L381.11,314.07 L381.72,314.07 L382.33,314.08 L382.94,314.09 L383.54,314.09 L384.15,314.10 L384.76,314.11 L385.37,314.11 L385.98,314.12 L386.59,314.13 L387.20,314.13 L387.80,314.14 L388.41,314.15 L389.02,314.15 L389.63,314.16 L390.24,314.17 L390.85,314.17 L391.46,314.18 L392.06,314.19 L392.67,314.19 L393.28,314.20 L393.89,314.21 L394.50,314.21 L395.11,314.22 L395.71,314.22 L396.32,314.23 L396.93,314.24 L397.54,314.24 L398.15,314.25 L398.76,314.25 L399.37,314.26 L399.97,314.27 L400.58,314.27 L401.19,314.28 L401.80,314.28 L402.41,314.29 L403.02,314.29 L403.62,314.30 L404.23,314.30 L404.84,314.31 L405.45,314.31 L406.06,314.32 L406.67,314.32 L407.28,314.33 L407.88,314.33 L408.49,314.34 L409.10,314.34 L409.71,314.34 L410.32,314.35 L410.93,314.35 L411.53,314.35 L412.14,314.36 L412.75,314.36 L413.36,314.37 L413.97,314.37 L414.58,314.37 L415.19,314.37 L415.79,314.38 L416.40,314.38 L417.01,314.38 L417.62,314.38 L418.23,314.39 L418.84,314.39 L419.45,314.39 L420.05,314.40 L420.66,314.40 L421.27,314.40 L421.88,314.40 L422.49,314.41 L423.10,314.41 L423.70,314.41 L424.31,314.41 L424.92,314.42 L425.53,314.42 L426.14,314.42 L426.75,314.42 L427.36,314.43 L427.96,314.43 L428.57,314.43 L429.18,314.43 L429.79,314.44 L430.40,314.44 L431.01,314.44 L431.61,314.44 L432.22,314.45 L432.83,314.45 L433.44,314.45 L434.05,314.45 L434.66,314.46 L435.27,314.46 L435.87,314.46 L436.48,314.46 L437.09,314.47 L437.70,314.47 L438.31,314.47 L438.92,314.47 L439.53,314.48 L440.13,314.48 L440.74,314.48 L441.35,314.48 L441.96,314.49 L442.57,314.49 L443.18,314.49 L443.78,314.49 L444.39,314.49 L445.00,314.50 L445.61,314.50 L446.22,314.50 L446.83,314.50 L447.44,314.51 L448.04,314.51 L448.65,314.51 L449.26,314.51 L449.87,314.51 L450.48,314.52 L451.09,314.52 L451.69,314.52 L452.30,314.52 L452.91,314.53 L453.52,314.53 L454.13,314.53 L454.74,314.53 L455.35,314.53 L455.95,314.54 L456.56,314.54 L457.17,314.54 L457.78,314.54 L458.39,314.54 L459.00,314.55 L459.60,314.55 L460.21,314.55 L460.82,314.55 L461.43,314.55 L462.04,314.55 L462.65,314.56 L463.26,314.56 L463.86,314.56 L464.47,314.56 L465.08,314.56 L465.69,314.56 L466.30,314.56 L466.91,314.57 L467.52,314.57 L468.12,314.57 L468.73,314.57 L469.34,314.57 L469.95,314.57 L470.56,314.57 L471.17,314.57 L471.77,314.58 L472.38,314.58 L472.99,314.58 L473.60,314.58 L474.21,314.58 L474.82,314.58 L475.43,314.58 L476.03,314.58 L476.64,314.58 L477.25,314.58 L477.86,314.58 L478.47,314.59 L479.08,314.59 L479.68,314.59 L480.29,314.59 L480.90,314.59 L481.51,314.59 L482.12,314.59 L482.73,314.59 L483.34,314.59 L483.94,314.59 L484.55,314.59 L485.16,314.59 L485.77,314.59 L486.38,314.59 L486.99,314.59 L487.59,314.60 L488.20,314.60 L488.81,314.60 L489.42,314.60 L490.03,314.60 L490.64,314.60 L491.25,314.60 L491.55,314.60" fill="none" stroke="#ff0000" stroke-width="1.05" stroke-dasharray="95.4 4.88" stroke-dashoffset="0" stroke-linecap="square" stroke-linejoin="round"/>
<line x1="23.2" y1="315.0" x2="501.0" y2="315.0" stroke="#000" stroke-width="0.56"/>
<line x1="33.1" y1="29.0" x2="33.1" y2="323.9" stroke="#000" stroke-width="0.48"/>
<line x1="33.05" y1="315.0" x2="33.05" y2="309.20" stroke="#000" stroke-width="0.55"/>
<line x1="55.97" y1="315.0" x2="55.97" y2="311.50" stroke="#000" stroke-width="0.55"/>
<line x1="78.90" y1="315.0" x2="78.90" y2="311.50" stroke="#000" stroke-width="0.55"/>
<line x1="101.83" y1="315.0" x2="101.83" y2="311.50" stroke="#000" stroke-width="0.55"/>
<line x1="124.75" y1="315.0" x2="124.75" y2="309.20" stroke="#000" stroke-width="0.55"/>
<line x1="147.68" y1="315.0" x2="147.68" y2="311.50" stroke="#000" stroke-width="0.55"/>
<line x1="170.60" y1="315.0" x2="170.60" y2="311.50" stroke="#000" stroke-width="0.55"/>
<line x1="193.52" y1="315.0" x2="193.52" y2="311.50" stroke="#000" stroke-width="0.55"/>
<line x1="216.45" y1="315.0" x2="216.45" y2="309.20" stroke="#000" stroke-width="0.55"/>
<line x1="239.38" y1="315.0" x2="239.38" y2="311.50" stroke="#000" stroke-width="0.55"/>
<line x1="262.30" y1="315.0" x2="262.30" y2="311.50" stroke="#000" stroke-width="0.55"/>
<line x1="285.23" y1="315.0" x2="285.23" y2="311.50" stroke="#000" stroke-width="0.55"/>
<line x1="308.15" y1="315.0" x2="308.15" y2="309.20" stroke="#000" stroke-width="0.55"/>
<line x1="331.08" y1="315.0" x2="331.08" y2="311.50" stroke="#000" stroke-width="0.55"/>
<line x1="354.00" y1="315.0" x2="354.00" y2="311.50" stroke="#000" stroke-width="0.55"/>
<line x1="376.93" y1="315.0" x2="376.93" y2="311.50" stroke="#000" stroke-width="0.55"/>
<line x1="399.85" y1="315.0" x2="399.85" y2="309.20" stroke="#000" stroke-width="0.55"/>
<line x1="422.78" y1="315.0" x2="422.78" y2="311.50" stroke="#000" stroke-width="0.55"/>
<line x1="445.70" y1="315.0" x2="445.70" y2="311.50" stroke="#000" stroke-width="0.55"/>
<line x1="468.62" y1="315.0" x2="468.62" y2="311.50" stroke="#000" stroke-width="0.55"/>
<line x1="491.55" y1="315.0" x2="491.55" y2="309.20" stroke="#000" stroke-width="0.55"/>
<line x1="33.05" y1="315.00" x2="38.85" y2="315.00" stroke="#000" stroke-width="0.55"/>
<line x1="33.05" y1="305.33" x2="36.55" y2="305.33" stroke="#000" stroke-width="0.55"/>
<line x1="33.05" y1="295.67" x2="36.55" y2="295.67" stroke="#000" stroke-width="0.55"/>
<line x1="33.05" y1="286.00" x2="36.55" y2="286.00" stroke="#000" stroke-width="0.55"/>
<line x1="33.05" y1="276.34" x2="38.85" y2="276.34" stroke="#000" stroke-width="0.55"/>
<line x1="33.05" y1="266.68" x2="36.55" y2="266.68" stroke="#000" stroke-width="0.55"/>
<line x1="33.05" y1="257.01" x2="36.55" y2="257.01" stroke="#000" stroke-width="0.55"/>
<line x1="33.05" y1="247.34" x2="36.55" y2="247.34" stroke="#000" stroke-width="0.55"/>
<line x1="33.05" y1="237.68" x2="38.85" y2="237.68" stroke="#000" stroke-width="0.55"/>
<line x1="33.05" y1="228.01" x2="36.55" y2="228.01" stroke="#000" stroke-width="0.55"/>
<line x1="33.05" y1="218.35" x2="36.55" y2="218.35" stroke="#000" stroke-width="0.55"/>
<line x1="33.05" y1="208.69" x2="36.55" y2="208.69" stroke="#000" stroke-width="0.55"/>
<line x1="33.05" y1="199.02" x2="38.85" y2="199.02" stroke="#000" stroke-width="0.55"/>
<line x1="33.05" y1="189.35" x2="36.55" y2="189.35" stroke="#000" stroke-width="0.55"/>
<line x1="33.05" y1="179.69" x2="36.55" y2="179.69" stroke="#000" stroke-width="0.55"/>
<line x1="33.05" y1="170.03" x2="36.55" y2="170.03" stroke="#000" stroke-width="0.55"/>
<line x1="33.05" y1="160.36" x2="38.85" y2="160.36" stroke="#000" stroke-width="0.55"/>
<line x1="33.05" y1="150.69" x2="36.55" y2="150.69" stroke="#000" stroke-width="0.55"/>
<line x1="33.05" y1="141.03" x2="36.55" y2="141.03" stroke="#000" stroke-width="0.55"/>
<line x1="33.05" y1="131.37" x2="36.55" y2="131.37" stroke="#000" stroke-width="0.55"/>
<line x1="33.05" y1="121.70" x2="38.85" y2="121.70" stroke="#000" stroke-width="0.55"/>
<line x1="33.05" y1="112.03" x2="36.55" y2="112.03" stroke="#000" stroke-width="0.55"/>
<line x1="33.05" y1="102.37" x2="36.55" y2="102.37" stroke="#000" stroke-width="0.55"/>
<line x1="33.05" y1="92.70" x2="36.55" y2="92.70" stroke="#000" stroke-width="0.55"/>
<line x1="33.05" y1="83.04" x2="38.85" y2="83.04" stroke="#000" stroke-width="0.55"/>
<line x1="33.05" y1="73.38" x2="36.55" y2="73.38" stroke="#000" stroke-width="0.55"/>
<line x1="33.05" y1="63.71" x2="36.55" y2="63.71" stroke="#000" stroke-width="0.55"/>
<line x1="33.05" y1="54.04" x2="36.55" y2="54.04" stroke="#000" stroke-width="0.55"/>
<line x1="33.05" y1="44.38" x2="38.85" y2="44.38" stroke="#000" stroke-width="0.55"/>
<line x1="33.05" y1="34.72" x2="36.55" y2="34.72" stroke="#000" stroke-width="0.55"/>
<text transform="translate(124.75 334.35) scale(1 1.065)" text-anchor="middle">2</text>
<text transform="translate(216.45 334.35) scale(1 1.065)" text-anchor="middle">4</text>
<text transform="translate(308.15 334.35) scale(1 1.065)" text-anchor="middle">6</text>
<text transform="translate(399.85 334.35) scale(1 1.065)" text-anchor="middle">8</text>
<text transform="translate(491.55 334.35) scale(1 1.065)" text-anchor="middle">10</text>
<text transform="translate(27.2 281.99) scale(1 1.065)" text-anchor="end">0.02</text>
<text transform="translate(27.2 243.33) scale(1 1.065)" text-anchor="end">0.04</text>
<text transform="translate(27.2 204.67) scale(1 1.065)" text-anchor="end">0.06</text>
<text transform="translate(27.2 166.01) scale(1 1.065)" text-anchor="end">0.08</text>
<text transform="translate(27.2 127.35) scale(1 1.065)" text-anchor="end">0.10</text>
<text transform="translate(27.2 88.69) scale(1 1.065)" text-anchor="end">0.12</text>
<text transform="translate(27.2 50.03) scale(1 1.065)" text-anchor="end">0.14</text>
<text transform="translate(32.3 14.7) scale(1 1.065)" text-anchor="middle">f</text>
<text transform="translate(515.6 320.15) scale(1 0.985)">b</text>
</svg></body></html>
